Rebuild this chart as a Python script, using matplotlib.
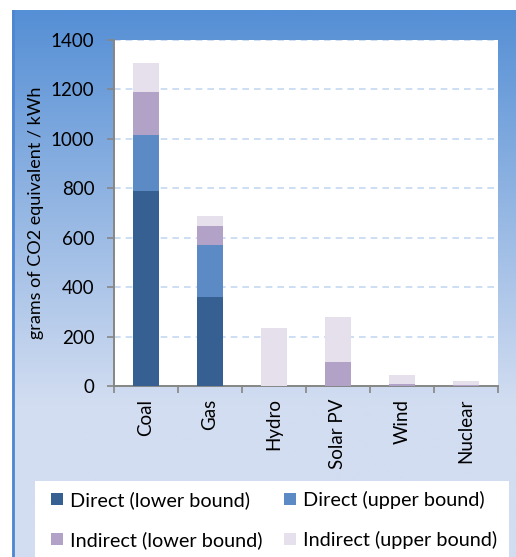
import numpy as np
import matplotlib.pyplot as plt
from matplotlib.patches import Patch, Rectangle

plt.rcParams['font.family'] = ['Lato', 'DejaVu Sans']

# lifecycle emissions per source, stacked segments (g CO2-eq / kWh)
sources = ['Coal', 'Gas', 'Hydro', 'Solar PV', 'Wind', 'Nuclear']
direct_low = [790, 360, 0, 0, 0, 0]
direct_up = [227, 210, 0, 0, 0, 0]
indirect_low = [173, 77, 0, 98, 8, 5]
indirect_up = [116, 40, 235, 181, 38, 15]

series_names = ['Direct (lower bound)', 'Direct (upper bound)',
                'Indirect (lower bound)', 'Indirect (upper bound)']
colors = ['#376092', '#5B8AC5', '#B2A2C7', '#E5E0EC']

W, H = 516, 557
fig = plt.figure(figsize=(W / 100, H / 100), dpi=100, facecolor='white')

# blue gradient panel behind everything
bg = fig.add_axes([12 / W, 0, (W - 12) / W, (H - 10) / H], zorder=-10)
top_c = np.array([0x55, 0x8F, 0xD5]) / 255
bot_c = np.array([0xD2, 0xDD, 0xF1]) / 255
t = np.linspace(0, 1, 300)
t = np.clip(t / 0.72, 0, 1)[:, None]
grad = top_c * (1 - t) + bot_c * t
bg.imshow(grad[:, None, :], aspect='auto', extent=[0, 1, 0, 1])
bg.axvline(0.002, color='#4F86D0', lw=2)
bg.set_axis_off()

ax = fig.add_axes([114 / W, 1 - 386 / H, 384 / W, 346 / H])
ax.set_facecolor('white')
x = np.arange(len(sources))
bottom = np.zeros(len(sources))
for vals, c, name in zip([direct_low, direct_up, indirect_low, indirect_up], colors, series_names):
    ax.bar(x, vals, width=0.4, bottom=bottom, color=c, label=name, zorder=3)
    bottom += np.array(vals)

ax.set_xlim(-0.5, len(sources) - 0.5)
ax.set_ylim(0, 1400)
ax.set_yticks(np.arange(0, 1401, 200))
ax.yaxis.grid(True, color='#C6D9F1', ls=(0, (4, 3)), lw=1.2, zorder=0)
ax.set_xticks(x)
ax.set_xticklabels(sources, rotation=90, fontsize=13.5)
ax.set_xticks(np.arange(-0.5, len(sources)), minor=True)
ax.tick_params(axis='x', which='major', length=0, pad=9)
ax.tick_params(axis='x', which='minor', length=5, color='#868686', width=1.2)
ax.tick_params(axis='y', length=5, color='#868686', width=1.2, labelsize=13.5, pad=9)
for s in ['top', 'right']:
    ax.spines[s].set_visible(False)
for s in ['left', 'bottom']:
    ax.spines[s].set_color('#868686')
    ax.spines[s].set_linewidth(1.4)
ax.set_ylabel('grams of CO2 equivalent / kWh', fontsize=13, labelpad=5)

# white legend box at the bottom of the panel
fig.patches.append(Rectangle((35 / W, 0), 474 / W, 76 / H, transform=fig.transFigure,
                             facecolor='white', edgecolor='none', zorder=1))
order = [0, 2, 1, 3]
handles = [Patch(facecolor=colors[i], label=series_names[i]) for i in order]
leg = fig.legend(handles=handles, loc='upper left', ncol=2, mode='expand',
                 bbox_to_anchor=(51 / W, 1 - 491 / H, 446 / W, 0), fontsize=14.3,
                 handlelength=0.6, handleheight=0.6, handletextpad=0.35,
                 frameon=False, borderaxespad=0, borderpad=0, labelspacing=1.1)

fig.savefig('out.png', dpi=100, facecolor='white')
